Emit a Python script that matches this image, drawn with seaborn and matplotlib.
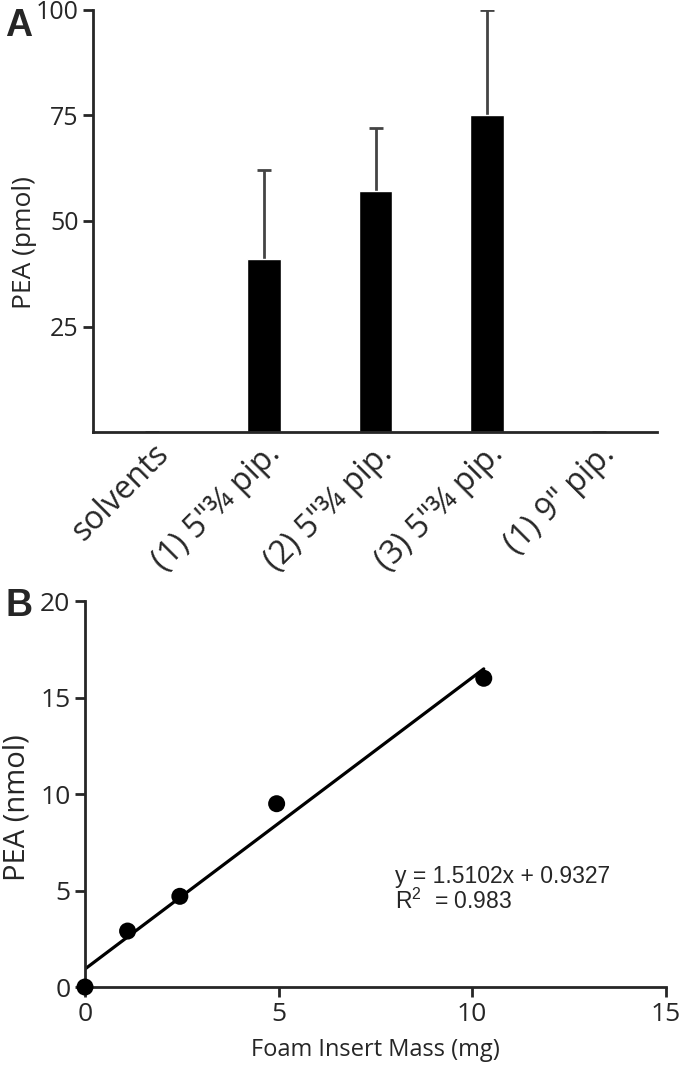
import numpy as np
import pandas as pd
import matplotlib
matplotlib.use("Agg")
import matplotlib.pyplot as plt
import seaborn as sns

# ---------------- data ----------------
groups = ["solvents", '(1) 5"¾ pip.', '(2) 5"¾ pip.', '(3) 5"¾ pip.', '(1) 9" pip.']
pea_pmol = [0, 41, 57, 75, 0]
pea_err = [0, 21, 15, 25, 0]

foam_mass = [0.0, 1.1, 2.45, 4.95, 10.3]   # mg
pea_nmol = [0.0, 2.9, 4.7, 9.5, 16.0]

slope = 1.5102
intercept = 0.9327
r2 = 0.983

# ---------------- style ----------------
sns.set_style("ticks")
plt.rcParams["font.family"] = ["Open Sans", "DejaVu Sans"]
plt.rcParams["axes.linewidth"] = 2.0
plt.rcParams["mathtext.fontset"] = "custom"
plt.rcParams["mathtext.rm"] = "Liberation Sans"
plt.rcParams["mathtext.it"] = "Liberation Sans:italic"

fig = plt.figure(figsize=(6.8, 10.78), dpi=100)
axA = fig.add_axes([0.137, 0.599, 0.829, 0.392])
axB = fig.add_axes([0.125, 0.0844, 0.854, 0.358])

# ---------------- panel A ----------------
dfA = pd.DataFrame({"group": groups, "pea": pea_pmol})
sns.barplot(data=dfA, x="group", y="pea", color="black", width=0.3,
            saturation=1, ax=axA, errorbar=None, zorder=2)
eb = axA.errorbar(range(len(groups)), pea_pmol,
                  yerr=[np.zeros(len(pea_err)), pea_err],
                  fmt="none", ecolor="#444444", elinewidth=2.0,
                  capsize=4.7, capthick=2.0, zorder=1)
# only the upper caps are wanted
for cap in eb[1]:
    if np.allclose(cap.get_ydata(), pea_pmol):
        cap.set_visible(False)
axA.set_ylim(0, 100)
axA.set_xlim(-0.53, 4.52)
axA.set_yticks([25, 50, 75, 100])
axA.set_xlabel("")
axA.set_ylabel("PEA (pmol)", fontsize=19)
axA.yaxis.set_label_coords(-0.1, 0.45)
axA.tick_params(axis="y", labelsize=18, length=7, width=2)
axA.tick_params(axis="x", length=0, pad=4)
for lab in axA.get_xticklabels():
    lab.set_rotation(45)
    lab.set_ha("right")
    lab.set_va("top")
    lab.set_rotation_mode("anchor")
    lab.set_fontsize(23)
sns.despine(ax=axA)

# ---------------- panel B ----------------
sns.scatterplot(x=foam_mass, y=pea_nmol, color="black", s=150,
                edgecolor="none", ax=axB, clip_on=False, zorder=3)
fit_x = np.array([0, max(foam_mass)])
sns.lineplot(x=fit_x, y=slope * fit_x + intercept, color="black",
             linewidth=2.3, ax=axB)
axB.set_xlim(0, 15)
axB.set_ylim(0, 20)
axB.set_xticks([0, 5, 10, 15])
axB.set_yticks([0, 5, 10, 15, 20])
axB.set_xlabel("Foam Insert Mass (mg)", fontsize=17, labelpad=8)
axB.set_ylabel("PEA (nmol)", fontsize=21)
axB.yaxis.set_label_coords(-0.092, 0.464)
axB.tick_params(labelsize=19, length=7, width=2)
sns.despine(ax=axB)

axB.text(8.0, 5.39, f"y = {slope}x + {intercept}", fontsize=16.5,
         family="Liberation Sans", va="baseline")
axB.text(8.0, 4.05, "R$^{2}$  = " + f"{r2}", fontsize=16.5,
         family="Liberation Sans", va="baseline")

# panel letters
fig.text(0.008, 0.993, "A", fontsize=27, fontweight="bold",
         family="Liberation Sans", va="top")
fig.text(0.008, 0.455, "B", fontsize=27, fontweight="bold",
         family="Liberation Sans", va="top")

fig.savefig("out.png", dpi=100)
